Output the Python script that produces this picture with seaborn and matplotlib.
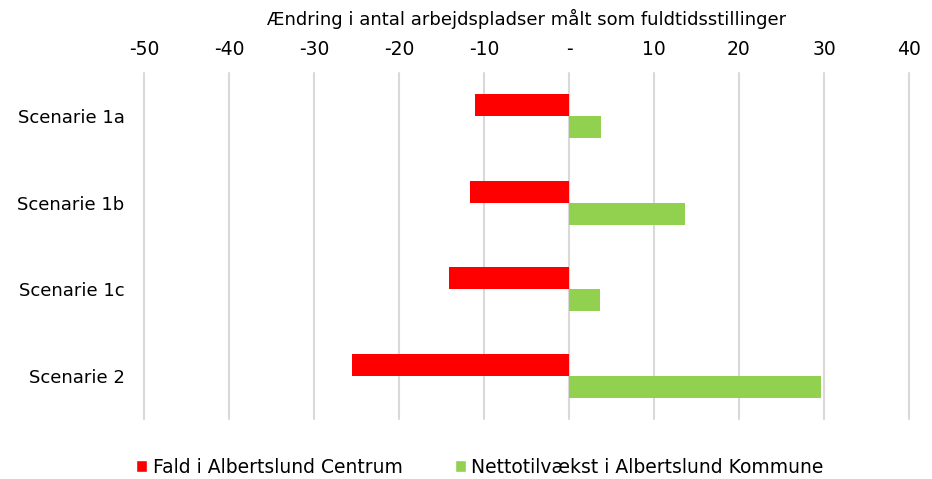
import pandas as pd
import matplotlib
matplotlib.use("Agg")
import matplotlib.pyplot as plt
import seaborn as sns
from matplotlib.patches import Patch

scenarios = ["Scenarie 1a", "Scenarie 1b", "Scenarie 1c", "Scenarie 2"]
fald = [-11.0, -11.7, -14.1, -25.5]
netto = [3.8, 13.6, 3.7, 29.6]
series = ["Fald i Albertslund Centrum", "Nettotilvækst i Albertslund Kommune"]
colors = ["#ff0000", "#92d050"]
ticks = [-50, -40, -30, -20, -10, 0, 10, 20, 30, 40]
tick_labels = ["-50", "-40", "-30", "-20", "-10", "-", "10", "20", "30", "40"]

df = pd.DataFrame({
    "scenarie": scenarios * 2,
    "serie": [series[0]] * len(scenarios) + [series[1]] * len(scenarios),
    "vaerdi": fald + netto,
})

sns.set_style("white")
plt.rcParams["font.family"] = ["DejaVu Sans"]
plt.rcParams["text.color"] = "#000000"

fig = plt.figure(figsize=(9.32, 4.79), dpi=100)
ax = fig.add_axes([0.1545, 0.1253, 0.8208, 0.7223])

sns.barplot(data=df, y="scenarie", x="vaerdi", hue="serie", order=scenarios,
            hue_order=series, palette=colors, width=0.508, orient="h",
            saturation=1, linewidth=0, ax=ax, legend=False, zorder=3)

ax.set_xlim(-50, 40)
ax.set_ylim(3.5, -0.5)
ax.set_xticks(ticks)
ax.set_xticklabels(tick_labels)
ax.xaxis.tick_top()
ax.xaxis.set_label_position("top")
ax.set_xlabel("Ændring i antal arbejdspladser målt som fuldtidsstillinger",
              fontsize=13, labelpad=11, color="#000000")
ax.set_ylabel("")
ax.tick_params(axis="y", labelsize=13, length=0, pad=14, labelcolor="#000000")
ax.tick_params(axis="x", labelsize=13.5, length=0, pad=10, labelcolor="#000000")
ax.grid(axis="x", color="#d9d9d9", linewidth=1.5, zorder=0)
ax.grid(axis="y", visible=False)
for line in ax.get_xgridlines():
    line.set_clip_on(False)
for s in ax.spines.values():
    s.set_visible(False)

handles = [Patch(facecolor=c, label=l) for c, l in zip(colors, series)]
fig.legend(handles=handles, loc="center", bbox_to_anchor=(0.515, 0.025),
           ncol=2, frameon=False, fontsize=13.5, handlelength=0.6,
           handleheight=0.6, handletextpad=0.28, columnspacing=2.8)

fig.savefig("out.png", dpi=100)
